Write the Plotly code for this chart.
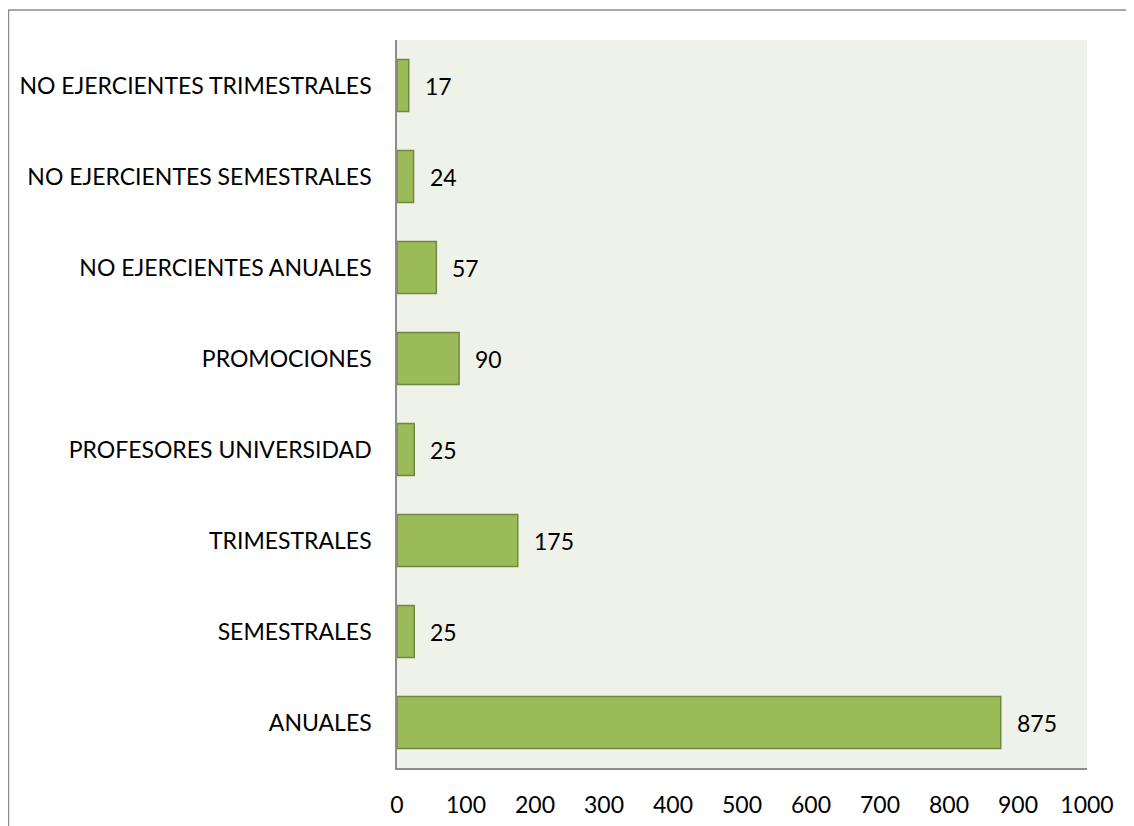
import plotly.graph_objects as go

categories = ["ANUALES", "SEMESTRALES", "TRIMESTRALES", "PROFESORES UNIVERSIDAD",
              "PROMOCIONES", "NO EJERCIENTES ANUALES", "NO EJERCIENTES SEMESTRALES",
              "NO EJERCIENTES TRIMESTRALES"]
values = [875, 25, 175, 25, 90, 57, 24, 17]
x_ticks = [0, 100, 200, 300, 400, 500, 600, 700, 800, 900, 1000]

FONT = "Lato"
fig = go.Figure()
fig.add_trace(go.Bar(
    y=categories, x=values, orientation="h",
    marker=dict(color="#9BBB59", line=dict(color="#71893F", width=1.5)),
    hoverinfo="x+y",
))
for c, v in zip(categories, values):
    fig.add_annotation(x=v, y=c, text=str(v), showarrow=False, xanchor="left",
                       xshift=14, font=dict(family=FONT, size=23, color="#000000"))

fig.add_shape(type="rect", xref="paper", yref="paper",
              x0=(0.5 - 389) / 690, x1=1.3, y0=-0.3, y1=1 + 30 / 728,
              line=dict(color="#8C8C8C", width=1.5), fillcolor="rgba(0,0,0,0)", layer="below")

fig.update_layout(
    width=1126, height=818,
    margin=dict(l=389, r=47, t=32, b=58, autoexpand=False),
    paper_bgcolor="white", plot_bgcolor="#EFF2E9",
    bargap=0.43, showlegend=False,
    font=dict(family=FONT, size=23, color="#000000"),
    xaxis=dict(range=[0, 1000], tickvals=x_ticks, showgrid=False, zeroline=False,
               showline=True, linecolor="#8C8C8C", linewidth=1.5, ticks="",
               ticklabelstandoff=16, fixedrange=True, automargin=False),
    yaxis=dict(showgrid=False, zeroline=False, showline=True, linecolor="#8C8C8C",
               linewidth=1.5, ticks="", ticklabelstandoff=19, categoryorder="array",
               categoryarray=categories, fixedrange=True, automargin=False),
)
fig.write_html("out.html")
